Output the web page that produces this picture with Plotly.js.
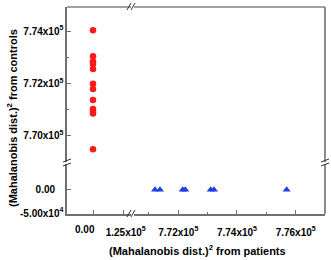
<!DOCTYPE html>
<html><head><meta charset="utf-8">
<script src="https://cdn.plot.ly/plotly-3.0.1.min.js"></script>
<style>html,body{margin:0;padding:0;background:#fff}#c{width:331px;height:260px}</style>
</head><body><div id="c"></div>
<script>
// Controls (red circles): x from patients, y from controls
const controlsX = [0,0,0,0,0,0,0,0,0,0,0,0];
const controlsY = [774030,773030,772835,772740,772540,771975,771780,771360,771010,770920,770835,769470];
// Patients (blue triangles)
const patientsX = [771206,771376,772150,772238,773104,773216,775693];
const patientsY = [0,0,0,0,0,0,0];

const NB = '\u00a0';
const xLeftTickVals = [0,125000];
const xLeftTickText = ['0.00','1.25x10<sup>5</sup>'];
const xRightTickVals = [772000,774000,776000];
const xRightTickText = ['7.72x10<sup>5</sup>','7.74x10<sup>5</sup>','7.76x10<sup>5</sup>'];
const yBottomTickVals = [-50000,0];
const yBottomTickText = ['-5.00x10<sup>4</sup>','0.00'+NB.repeat(3)];
const yTopTickVals = [770000,772000,774000];
const yTopTickText = ['7.70x10<sup>5</sup>','7.72x10<sup>5</sup>','7.74x10<sup>5</sup>'];

const L=67,R=325,T=7,B=214;
const px=x=>(x-L)/(R-L), py=y=>(B-y)/(B-T);
const lineC='#707070', lw=1.6;
const font={family:'"Liberation Sans", Arial, sans-serif',size:10,color:'#000',weight:'bold'};

function ax(extra){
  return Object.assign({showline:true,linecolor:lineC,linewidth:lw,showgrid:false,zeroline:false,automargin:false,
    ticks:'inside',ticklen:4,tickcolor:lineC,tickwidth:1,tickmode:'array',tickfont:font,tickangle:0},extra);
}

const traces=[
  {x:controlsX,y:controlsY,xaxis:'x',yaxis:'y2',mode:'markers',type:'scatter',
   marker:{symbol:'circle',size:6.5,color:'#ff1a1a'}},
  {x:patientsX,y:patientsY,xaxis:'x2',yaxis:'y',mode:'markers',type:'scatter',
   marker:{symbol:'triangle-up',size:7,color:'#1f3fe0'}}
];

function seg(x0,y0,x1,y1,w,c){return {type:'line',xref:'paper',yref:'paper',x0:px(x0),y0:py(y0),x1:px(x1),y1:py(y1),line:{color:c||lineC,width:w||lw}};}
const shapes=[
  seg(L,T,131,T,1.2,'#444'), seg(134,T,R,T,1.2,'#444'),
  seg(R,T,R,162), seg(R,164,R,B),
  // break marks
  seg(127,10,131,3,1,'#333'), seg(131,10,135,3,1,'#333'),
  seg(127,217,131,210,1,'#333'), seg(131,217,135,210,1,'#333'),
  seg(63,162,71,159,1,'#333'), seg(63,166,71,163,1,'#333'),
  seg(321,162,329,159,1,'#333'), seg(321,166,329,163,1,'#333')
];

const layout={
  width:331,height:260,margin:{l:L,r:331-R,t:T,b:260-B},
  paper_bgcolor:'#fff',plot_bgcolor:'#fff',showlegend:false,font:font,
  xaxis:ax({domain:[0,px(131)],range:[-105900,154700],anchor:'y',tickvals:xLeftTickVals,
    ticktext:['',xLeftTickText[1]],ticklabelstandoff:8,ticklabelshift:2}),
  xaxis2:ax({domain:[px(134),1],range:[770490,777000],anchor:'y',tickvals:xRightTickVals,ticktext:xRightTickText,ticklabelstandoff:8,
    minor:{tickvals:[771000,773000,775000],ticks:'inside',ticklen:2,tickcolor:lineC}}),
  yaxis:ax({domain:[0,py(164)],range:[-52000,55300],anchor:'x',tickvals:yBottomTickVals,ticktext:yBottomTickText}),
  yaxis2:ax({domain:[py(162),1],range:[768980,774920],anchor:'x',tickvals:yTopTickVals,ticktext:yTopTickText,
    minor:{tickvals:[771000,773000],ticks:'inside',ticklen:2,tickcolor:lineC}}),
  shapes:shapes,
  annotations:[
    {text:xLeftTickText[0],xref:'x',yref:'paper',x:xLeftTickVals[0],xshift:-8,y:py(230),
     showarrow:false,xanchor:'center',yanchor:'middle',font:font},
    {text:'(Mahalanobis dist.)<sup>2</sup> from controls',xref:'paper',yref:'paper',x:px(12),y:py(118),
     textangle:-90,showarrow:false,xanchor:'center',yanchor:'middle',font:Object.assign({},font,{size:11})},
    {text:'(Mahalanobis dist.)<sup>2</sup> from patients',xref:'paper',yref:'paper',x:px(197),y:py(250),
     showarrow:false,xanchor:'center',yanchor:'middle',font:Object.assign({},font,{size:11})}
  ]
};
Plotly.newPlot('c',traces,layout,{staticPlot:true});
</script></body></html>
